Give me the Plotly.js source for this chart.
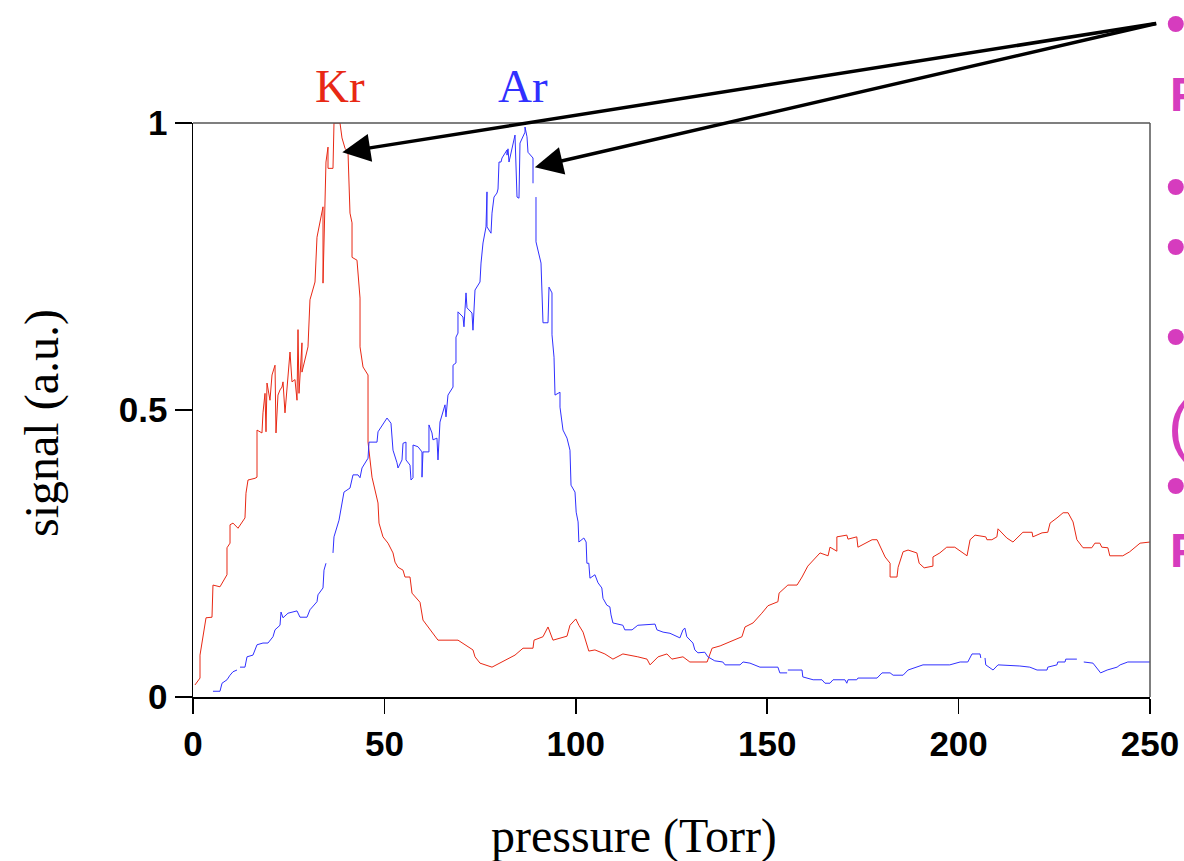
<!DOCTYPE html>
<html>
<head>
<meta charset="utf-8">
<script src="https://cdn.plot.ly/plotly-3.0.1.min.js"></script>
<style>html,body{margin:0;padding:0;background:#fff;overflow:hidden}</style>
</head>
<body>
<div id="chart" style="width:1184px;height:861px"></div>
<script>
// Kr (red) signal vs pressure
const krPressure = [0.52,1.83,1.83,2.61,3.40,4.96,5.22,7.05,8.88,8.88,9.67,9.67,10.45,11.76,13.58,13.84,14.37,16.20,16.72,16.72,18.02,18.28,
 18.81,19.07,19.33,20.11,20.64,21.42,21.68,22.20,22.73,23.25,23.51,24.03,24.55,25.34,25.86,26.64,27.17,27.43,27.69,28.47,28.47,30.04,30.56,
 31.87,32.39,33.96,33.96,34.74,35.27,35.27,36.57,36.83,38.40,38.92,39.71,40.49,41.01,41.54,41.54,42.84,43.63,43.63,44.41,45.72,45.72,46.76,
 48.33,48.59,49.63,50.94,52.25,52.77,53.55,54.86,55.38,56.69,57.21,59.30,60.08,62.43,64.00,69.23,71.05,73.14,73.67,74.97,78.11,80.20,82.03,
 84.12,86.21,88.82,89.08,91.43,92.74,94.04,97.70,98.48,100.0,100.8,101.9,103.4,105.0,107.6,109.7,112.3,116.2,118.6,119.4,121.5,123.8,125.1,
 128.0,129.8,134.3,135.6,137.7,139.5,141.1,143.4,144.2,146.3,148.6,150.2,152.8,153.1,155.4,157.8,159.1,160.6,163.8,165.9,166.4,168.2,168.2,
 170.8,171.1,173.4,173.7,177.4,178.7,180.8,182.1,182.1,183.9,184.2,185.5,186.8,189.1,189.7,191.0,193.3,193.3,195.1,196.9,199.0,202.2,203.0,
 204.3,207.1,207.4,208.7,210.0,210.3,212.6,214.2,216.8,219.2,219.4,221.8,223.3,223.9,225.7,227.3,228.6,229.9,230.9,232.5,234.8,235.6,236.9,
 237.4,239.0,239.5,242.9,244.7,247.4,250.0];
const krSignal = [0.021,0.033,0.073,0.103,0.138,0.139,0.195,0.192,0.213,0.260,0.268,0.300,0.303,0.294,0.312,0.355,0.378,0.381,0.383,0.465,0.460,0.495,
 0.529,0.462,0.547,0.517,0.561,0.578,0.460,0.526,0.535,0.540,0.549,0.495,0.544,0.601,0.549,0.553,0.517,0.640,0.529,0.617,0.566,0.610,0.692,
 0.723,0.801,0.854,0.721,0.932,0.958,0.921,0.921,1.000,1.000,0.974,0.956,0.949,0.843,0.826,0.766,0.761,0.695,0.610,0.575,0.561,0.444,0.383,
 0.338,0.303,0.279,0.268,0.251,0.235,0.226,0.221,0.209,0.209,0.181,0.165,0.134,0.113,0.099,0.099,0.091,0.082,0.070,0.059,0.052,0.059,0.066,
 0.073,0.085,0.085,0.099,0.105,0.122,0.099,0.106,0.125,0.136,0.125,0.113,0.080,0.082,0.075,0.066,0.075,0.070,0.066,0.056,0.070,0.075,0.066,
 0.070,0.061,0.061,0.085,0.089,0.094,0.099,0.105,0.122,0.129,0.146,0.159,0.166,0.181,0.195,0.195,0.209,0.228,0.251,0.246,0.261,0.254,0.279,
 0.282,0.275,0.279,0.261,0.274,0.274,0.244,0.233,0.209,0.209,0.226,0.253,0.256,0.251,0.233,0.225,0.228,0.244,0.251,0.261,0.261,0.246,0.274,
 0.282,0.279,0.274,0.274,0.279,0.293,0.277,0.270,0.287,0.287,0.279,0.286,0.287,0.303,0.312,0.321,0.321,0.305,0.274,0.260,0.260,0.268,0.268,
 0.261,0.260,0.246,0.246,0.253,0.268,0.270];

// Ar (blue) signal vs pressure (null = gap in trace)
const arPressure = [5.22,7.05,7.58,8.88,9.67,10.45,11.49,null,12.28,13.58,14.11,15.67,16.72,18.28,19.59,20.90,21.42,22.73,22.99,23.51,24.82,27.17,
 27.95,29.78,30.56,32.39,32.65,33.96,34.22,34.74,null,36.57,36.83,38.14,39.44,41.01,41.80,43.10,43.63,44.15,45.72,45.98,48.07,48.33,49.89,
 50.68,51.72,52.25,53.29,53.55,54.60,54.86,55.64,55.64,56.69,56.95,57.47,57.47,58.77,59.82,59.82,60.08,61.64,61.64,62.43,62.69,63.73,64.00,
 64.52,65.83,66.09,66.61,67.92,67.92,68.70,68.70,69.22,69.22,70.53,70.79,71.32,71.58,72.88,73.14,73.67,74.97,75.24,75.76,76.54,76.80,76.80,
 77.85,78.11,78.63,79.41,79.68,79.94,80.46,80.72,82.03,82.03,82.29,82.55,83.60,84.12,84.64,85.16,85.42,86.73,86.73,87.25,87.51,88.82,88.82,
 null,89.60,89.60,90.91,91.17,91.43,92.74,93.00,93.78,93.78,94.31,94.57,95.87,95.87,96.66,97.70,98.48,98.75,99.79,100.1,100.6,100.8,102.1,
 102.7,102.9,103.4,103.7,105.0,105.8,106.8,107.1,108.1,108.9,109.2,109.7,112.3,112.8,114.7,116.2,120.7,121.2,122.8,124.6,127.2,128.0,128.5,
 129.0,130.6,131.1,131.9,133.7,134.5,136.3,138.4,139.0,142.9,143.7,145.5,148.1,152.8,153.3,155.2,null,155.4,159.1,159.3,162.0,164.3,165.1,
 166.4,167.2,170.3,170.8,171.1,173.4,173.7,178.7,180.0,182.1,182.9,185.5,186.8,190.7,197.7,200.4,202.4,203.5,205.6,205.8,null,206.9,207.1,
 209.0,210.3,216.0,218.6,220.5,223.1,223.3,225.7,225.9,227.8,228.0,230.9,null,232.7,235.1,237.1,238.8,241.4,242.2,244.2,250.0];
const arSignal = [0.010,0.010,0.024,0.030,0.038,0.044,0.047,null,0.052,0.052,0.070,0.073,0.091,0.094,0.094,0.105,0.117,0.125,0.148,0.138,0.146,0.150,
 0.139,0.139,0.152,0.166,0.178,0.190,0.221,0.233,null,0.251,0.279,0.308,0.357,0.364,0.387,0.387,0.382,0.399,0.416,0.444,0.444,0.462,0.479,
 0.486,0.477,0.430,0.408,0.399,0.413,0.442,0.444,0.413,0.404,0.378,0.382,0.439,0.436,0.427,0.383,0.427,0.427,0.474,0.460,0.448,0.451,0.413,
 0.479,0.509,0.488,0.526,0.540,0.578,0.582,0.627,0.634,0.671,0.662,0.645,0.704,0.678,0.669,0.639,0.709,0.723,0.756,0.791,0.819,0.880,0.819,
 0.808,0.843,0.871,0.878,0.885,0.932,0.932,0.939,0.953,0.944,0.955,0.932,0.967,0.979,0.871,0.869,0.965,0.984,0.993,0.976,0.949,0.939,0.895,
 null,0.871,0.793,0.756,0.714,0.652,0.652,0.714,0.704,0.631,0.592,0.526,0.531,0.505,0.465,0.451,0.430,0.369,0.357,0.322,0.305,0.270,0.277,
 0.270,0.233,0.233,0.207,0.213,0.199,0.190,0.172,0.160,0.157,0.143,0.129,0.125,0.117,0.117,0.125,0.127,0.117,0.113,0.111,0.103,0.117,0.120,
 0.105,0.094,0.082,0.077,0.078,0.070,0.063,0.061,0.056,0.056,0.061,0.059,0.052,0.052,0.042,0.042,null,0.047,0.047,0.035,0.030,0.030,0.024,
 0.024,0.030,0.030,0.024,0.030,0.030,0.033,0.033,0.042,0.042,0.038,0.038,0.047,0.056,0.056,0.061,0.061,0.075,0.075,0.068,null,0.068,0.056,
 0.047,0.056,0.054,0.052,0.047,0.047,0.052,0.056,0.061,0.061,0.066,0.066,null,0.061,0.059,0.042,0.047,0.052,0.056,0.061,0.061];

const xTicks = [0, 50, 100, 150, 200, 250];
const yTicks = [0, 0.5, 1];
const yTickText = ['0', '0.5', '1'];

const RED = 'rgb(232,40,20)';
const BLUE = 'rgb(48,48,255)';
const MAG = 'rgb(214,60,190)';

const traces = [
  {x: krPressure, y: krSignal, mode: 'lines', line: {color: RED, width: 1}, connectgaps: false, hoverinfo: 'skip', name: 'Kr'},
  {x: arPressure, y: arSignal, mode: 'lines', line: {color: BLUE, width: 1}, connectgaps: false, hoverinfo: 'skip', name: 'Ar'}
];

const tickFont = {family: 'Liberation Sans, Arial, sans-serif', size: 35, color: '#000', weight: 'bold'};
const serif = 'Liberation Serif, Times New Roman, serif';

function px2paperX(p) { return (p - 193) / 957; }
function px2paperY(p) { return (697 - p) / 574; }

const annotations = [
  {xref: 'x', yref: 'paper', x: 38.5, y: px2paperY(86), yanchor: 'middle', text: 'Kr', showarrow: false,
   font: {family: serif, size: 47, color: RED}},
  {xref: 'x', yref: 'paper', x: 86.3, y: px2paperY(86), yanchor: 'middle', text: 'Ar', showarrow: false,
   font: {family: serif, size: 47, color: BLUE}},
  {xref: 'x', yref: 'y', x: 39.0, y: 0.949, ax: 815, ay: -129, axref: 'pixel', ayref: 'pixel',
   text: '', showarrow: true, arrowhead: 2, arrowsize: 1.6, arrowwidth: 3.5, arrowcolor: '#000'},
  {xref: 'x', yref: 'y', x: 89.3, y: 0.923, ax: 623, ay: -144, axref: 'pixel', ayref: 'pixel',
   text: '', showarrow: true, arrowhead: 2, arrowsize: 1.6, arrowwidth: 3.5, arrowcolor: '#000'},
  // axis titles
  {xref: 'paper', yref: 'paper', x: px2paperX(634), y: px2paperY(836), xanchor: 'center', yanchor: 'middle',
   text: 'pressure (Torr)', showarrow: false, font: {family: serif, size: 48, color: '#000'}},
  {xref: 'paper', yref: 'paper', x: px2paperX(42), y: px2paperY(423), xanchor: 'center', yanchor: 'middle', textangle: -90,
   text: 'signal (a.u.)', showarrow: false, font: {family: serif, size: 48, color: '#000'}}
];

// partially visible magenta text at the right edge
const sideText = [['•', 22], ['P', 94], ['•', 185], ['•', 245], ['•', 335], ['(', 425], ['•', 485], ['P', 550]];
sideText.forEach(function (s) {
  const isBullet = s[0] === '•';
  const isParen = s[0] === '(';
  annotations.push({xref: 'paper', yref: 'paper', x: px2paperX(isBullet ? 1164 : (isParen ? 1166 : 1168)), y: px2paperY(s[1]),
    xanchor: 'left', yanchor: 'middle', text: s[0], showarrow: false,
    font: {family: 'Liberation Sans, Arial, sans-serif', size: isBullet ? 56 : (isParen ? 66 : 48), color: MAG,
           weight: isParen ? 'normal' : 'bold'}});
});

const layout = {
  width: 1184, height: 861,
  margin: {l: 193, r: 34, t: 123, b: 164},
  paper_bgcolor: '#fff', plot_bgcolor: '#fff',
  showlegend: false,
  xaxis: {
    range: [0, 250], tickvals: xTicks, ticktext: xTicks.map(String),
    ticks: 'outside', ticklen: 15, tickwidth: 1.5, tickcolor: '#000',
    showline: true, linecolor: '#000', linewidth: 1.5, showgrid: false, zeroline: false,
    tickfont: tickFont, automargin: false
  },
  yaxis: {
    range: [0, 1], tickvals: yTicks, ticktext: yTickText,
    ticks: 'outside', ticklen: 17, tickwidth: 1.5, tickcolor: '#000',
    showline: true, linecolor: '#000', linewidth: 1.5, showgrid: false, zeroline: false,
    tickfont: tickFont, automargin: false
  },
  shapes: [
    {type: 'line', xref: 'paper', yref: 'paper', x0: 0, x1: 1, y0: 1, y1: 1, line: {color: '#555', width: 1.5}},
    {type: 'line', xref: 'paper', yref: 'paper', x0: 1, x1: 1, y0: 0, y1: 1, line: {color: '#555', width: 1.5}}
  ],
  annotations: annotations
};

Plotly.newPlot('chart', traces, layout, {displayModeBar: false, staticPlot: true});
</script>
</body>
</html>
